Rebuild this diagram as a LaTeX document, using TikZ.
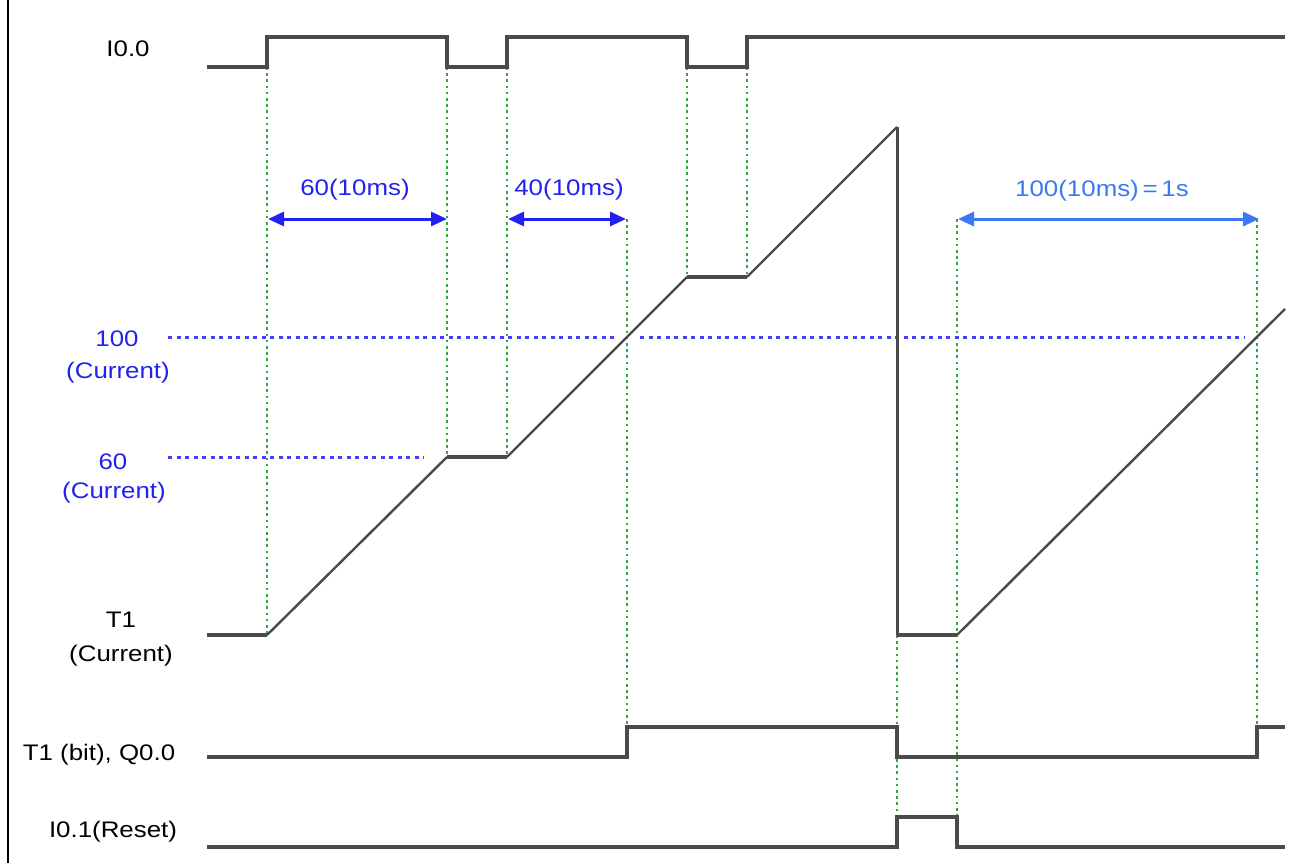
\documentclass[tikz,border=0pt]{standalone}
\usepackage{fontspec}
\setmainfont{Liberation Sans}[FakeStretch=1.15]
\usetikzlibrary{arrows.meta}
\definecolor{sig}{HTML}{4A4A4A}
\definecolor{grn}{HTML}{2EAA3C}
\definecolor{dblue}{HTML}{2222F0}
\definecolor{lblue}{HTML}{3C78F5}
\tikzset{
  signal/.style={draw=sig,line width=3.6pt,line join=miter},
  ramp/.style={draw=sig,line width=2.4pt},
  guide/.style={draw=grn,line width=2.6pt,dash pattern=on 2.6pt off 3.6pt},
  level/.style={draw=dblue!85,line width=3pt,dash pattern=on 4pt off 4.5pt},
  lbl/.style={font=\fontsize{22.5}{24}\selectfont,inner sep=0pt,align=center},
  blbl/.style={lbl,text=dblue},
  span/.style={line width=3pt,{Triangle[length=16pt,width=14pt]}-{Triangle[length=16pt,width=14pt]}}
}
\begin{document}
\begin{tikzpicture}[x=1pt,y=-1pt]
\useasboundingbox (0,0) rectangle (1307,865);
\fill[white] (0,0) rectangle (1307,865);
\draw[line width=2.5pt,black] (8,0) -- (8,863);

% key coordinates
\coordinate (a1) at (267,67);  \coordinate (a2) at (447,67);
\coordinate (a3) at (507,67);  \coordinate (a4) at (687,67);
\coordinate (a5) at (747,67);
\coordinate (c0) at (267,635); \coordinate (c1) at (447,457);
\coordinate (c2) at (507,457); \coordinate (c3) at (627,337);
\coordinate (c4) at (687,277); \coordinate (c5) at (747,277);
\coordinate (pk) at (897,127); \coordinate (c6) at (897,635);
\coordinate (c7) at (957,635); \coordinate (c8) at (1257,337);
\coordinate (b1) at (627,727); \coordinate (b2) at (897,757);
\coordinate (b3) at (1257,727);
\coordinate (r1) at (897,817); \coordinate (r2) at (957,817);

% green guides
\draw[guide] (a1) -- (c0);
\draw[guide] (a2) -- (c1);
\draw[guide] (a3) -- (c2);
\draw[guide] (627,219) -- (b1);
\draw[guide] (a4) -- (c4);
\draw[guide] (a5) -- (c5);
\draw[guide] (c6) -- (r1);
\draw[guide] (957,219) -- (r2);
\draw[guide] (1257,219) -- (b3);

% blue level lines
\draw[level] (168,337) -- (615,337);
\draw[level] (640,337) -- (1245,337);
\draw[level] (168,457) -- (424,457);

% I0.0
\draw[signal] (207,67) -- (267,67) -- (267,37) -- (447,37) -- (447,67) -- (507,67)
  -- (507,37) -- (687,37) -- (687,67) -- (747,67) -- (747,37) -- (1285,37);

% T1 current
\draw[signal] (207,635) -- (c0);
\draw[ramp] (c0) -- (c1);
\draw[signal] (c1) -- (c2);
\draw[ramp] (c2) -- (c4);
\draw[signal] (c4) -- (c5);
\draw[ramp] (c5) -- (pk);
\draw[draw=sig,line width=3pt] (pk) -- (c6);
\draw[signal] (c6) -- (c7);
\draw[ramp] (c7) -- (1285,309);

% T1 bit
\draw[signal] (207,757) -- (627,757) -- (b1) -- (897,727) -- (b2) -- (1257,757)
  -- (b3) -- (1285,727);

% Reset
\draw[signal] (207,847) -- (897,847) -- (r1) -- (r2) -- (957,847) -- (1285,847);

% span arrows
\coordinate (s1) at (268,219); \coordinate (s2) at (447,219);
\coordinate (s3) at (508,219); \coordinate (s4) at (626,219);
\coordinate (s5) at (958,219); \coordinate (s6) at (1259,219);
\draw[span,dblue] (s1) -- (s2);
\draw[span,dblue] (s3) -- (s4);
\draw[span,lblue] (s5) -- (s6);
\node[blbl] (l60) at (355,190) {60(10ms)};
\node[blbl] (l40) at (569,190) {40(10ms)};
\node[lbl,text=lblue] (l100) at (1102,191) {100(10ms)\,=\,1s};

% left labels
\node[lbl] (n1) at (128,49) {I0.0};
\node[blbl] (n2) at (117,339) {100};
\node[blbl] (n3) at (118,373) {(Current)};
\node[blbl] (n4) at (113,462) {60};
\node[blbl] (n5) at (114,493) {(Current)};
\node[lbl] (n6) at (121,620) {T1};
\node[lbl] (n7) at (121,656) {(Current)};
\node[lbl] (n8) at (99,755) {T1 (bit), Q0.0};
\node[lbl] (n9) at (113,832) {I0.1(Reset)};
\end{tikzpicture}
\end{document}
